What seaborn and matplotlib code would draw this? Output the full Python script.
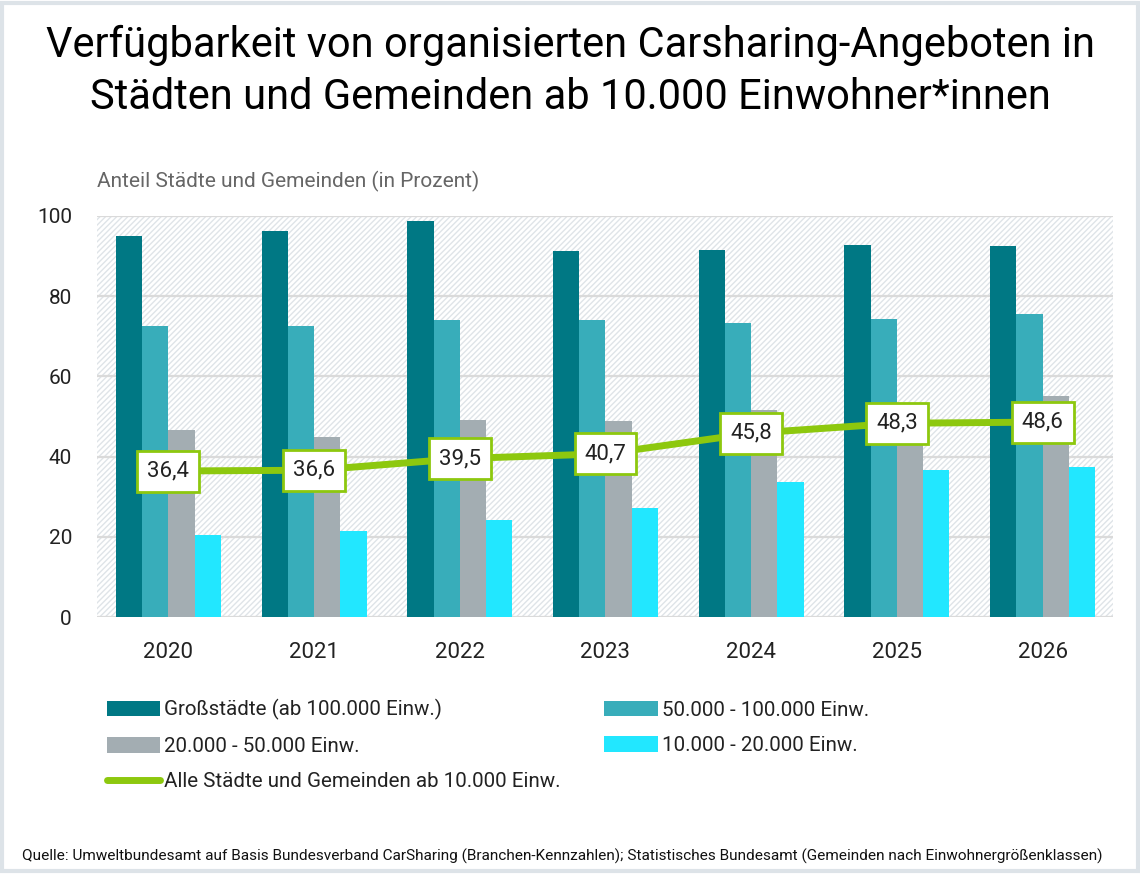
import numpy as np
import pandas as pd
import matplotlib
matplotlib.use("Agg")
import matplotlib.pyplot as plt
import seaborn as sns
from matplotlib.patches import Rectangle, Patch
from matplotlib.lines import Line2D

# --- data ---
years = ["2020", "2021", "2022", "2023", "2024", "2025", "2026"]
gross = [95.0, 96.3, 98.8, 91.3, 91.5, 92.8, 92.5]
mittel = [72.6, 72.6, 74.1, 74.1, 73.3, 74.3, 75.6]
klein = [46.6, 44.9, 49.1, 48.9, 51.6, 53.4, 55.1]
kleinst = [20.4, 21.4, 24.2, 27.2, 33.7, 36.7, 37.4]
alle = [36.4, 36.6, 39.5, 40.7, 45.8, 48.3, 48.6]
alle_labels = ["36,4", "36,6", "39,5", "40,7", "45,8", "48,3", "48,6"]

classes = ["Großstädte (ab 100.000 Einw.)", "50.000 - 100.000 Einw.",
           "20.000 - 50.000 Einw.", "10.000 - 20.000 Einw."]
line_name = "Alle Städte und Gemeinden ab 10.000 Einw."
colors = ["#007884", "#38adba", "#a3adb2", "#22e7ff"]
green = "#8dc80e"

df = pd.DataFrame({
    "Jahr": years * 4,
    "Klasse": np.repeat(classes, len(years)),
    "Anteil": gross + mittel + klein + kleinst,
})

sns.set_theme(style="white")
plt.rcParams["font.family"] = ["Roboto", "DejaVu Sans"]
plt.rcParams["hatch.linewidth"] = 1.0
plt.rcParams["hatch.color"] = "#dfe4e8"

fig = plt.figure(figsize=(11.4, 8.74), dpi=100)
ax = fig.add_axes([0.085, 0.294, 0.891, 0.459])

# hatched background of the plot area
ax.add_patch(Rectangle((0, 0), 1, 1, transform=ax.transAxes, facecolor="white",
                       edgecolor="#dfe4e8", hatch="//////", linewidth=0, zorder=0))

sns.barplot(data=df, x="Jahr", y="Anteil", hue="Klasse", palette=colors,
            width=0.72, gap=0, linewidth=0, saturation=1, ax=ax, zorder=3,
            legend=False)

xpos = np.arange(len(years))
ax.plot(xpos, alle, color=green, linewidth=5, solid_capstyle="butt", zorder=4)
for x, y, lab in zip(xpos, alle, alle_labels):
    ax.text(x, y, lab, ha="center", va="center", fontsize=16, color="#222222",
            zorder=5,
            bbox=dict(boxstyle="square,pad=0.45", facecolor="white",
                      edgecolor=green, linewidth=2))

ax.set_ylim(0, 100)
ax.set_xlim(-0.49, 6.48)
ax.set_yticks(range(0, 101, 20))
ax.yaxis.grid(True, color="#dadada", linewidth=1.6, zorder=1)
ax.set_axisbelow(True)
for s in ax.spines.values():
    s.set_visible(False)
ax.tick_params(axis="y", labelsize=15, colors="#222222", pad=18, length=0)
ax.tick_params(axis="x", labelsize=16, colors="#222222", pad=18, length=0)
ax.set_xlabel("")
ax.set_ylabel("")

# titles and notes
fig.text(0.5, 0.972, "Verfügbarkeit von organisierten Carsharing-Angeboten in\n"
         "Städten und Gemeinden ab 10.000 Einwohner*innen",
         ha="center", va="top", fontsize=30, color="black", linespacing=1.36)
fig.text(0.085, 0.792, "Anteil Städte und Gemeinden (in Prozent)",
         ha="left", va="center", fontsize=15, color="#666666")
fig.text(0.019, 0.02, "Quelle: Umweltbundesamt auf Basis Bundesverband CarSharing "
         "(Branchen-Kennzahlen); Statistisches Bundesamt (Gemeinden nach "
         "Einwohnergrößenklassen)", ha="left", va="center", fontsize=11.1,
         color="#111111")

# legend: column 1 = Groß, 20k, line; column 2 = 50k, 10k
h = [Patch(facecolor=c, edgecolor="none") for c in colors]
ln = Line2D([0], [0], color=green, linewidth=5, solid_capstyle="round")
fig.legend([h[0], h[2], ln, h[1], h[3]],
           [classes[0], classes[2], line_name, classes[1], classes[3]],
           ncol=2, loc="upper left", bbox_to_anchor=(0.0775, 0.221),
           frameon=False, fontsize=14.8, handlelength=2.6, handleheight=0.8,
           handletextpad=0.2, labelspacing=0.8, columnspacing=2.1,
           labelcolor="#222222")

# thin frame around the figure
fig.patches.append(Rectangle((0.002, 0.003), 0.996, 0.994, transform=fig.transFigure,
                             fill=False, edgecolor="#dde3e8", linewidth=3))

fig.savefig("out.png", dpi=100)
